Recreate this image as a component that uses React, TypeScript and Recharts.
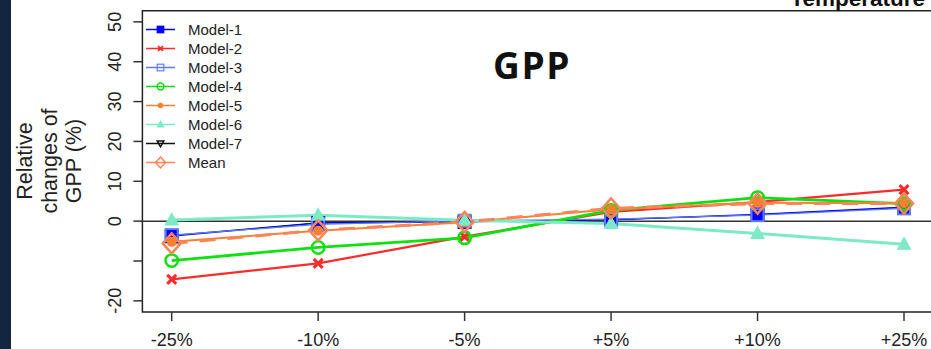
import { LineChart, Line, XAxis, YAxis, ReferenceArea, ReferenceLine } from "recharts";

// scenario change applied to the driver
const scenarios = ["-25%", "-10%", "-5%", "+5%", "+10%", "+25%"];

// relative change of GPP (%) per model
const model1 = [-3.8, -0.5, -0.2, 0.4, 1.7, 3.5];
const model2 = [-14.6, -10.6, -3.9, 2.3, 4.8, 7.9];
const model3 = [-3.5, -0.8, 0.1, 0.5, 1.5, 3.2];
const model4 = [-9.9, -6.6, -4.2, 2.7, 5.9, 4.4];
const model5 = [-5.2, -2.4, -0.3, 3.0, 4.6, 4.5];
const model6 = [0.3, 1.5, 0.2, -0.6, -3.1, -5.8];
const model7 = [-3.6, -0.4, -0.1, 0.3, 1.6, 3.4];
const meanChange = [-5.6, -2.3, -0.2, 3.2, 4.4, 4.4];

const yTicks = [-20, -10, 0, 10, 20, 30, 40, 50];

const FONT = "'Liberation Sans', Arial, sans-serif";

type Shape =
  | "square"
  | "cross"
  | "openSquare"
  | "openCircle"
  | "circle"
  | "triangle"
  | "downTriangle"
  | "diamond";

type Series = {
  key: string;
  name: string;
  color: string;
  width: number;
  shape: Shape;
  dash?: string;
  values: number[];
};

const series: Series[] = [
  { key: "m1", name: "Model-1", color: "#0000ff", width: 1.2, shape: "square", values: model1 },
  { key: "m2", name: "Model-2", color: "#ff2a2a", width: 2.2, shape: "cross", values: model2 },
  { key: "m3", name: "Model-3", color: "#5b7cff", width: 1.2, shape: "openSquare", values: model3 },
  { key: "m4", name: "Model-4", color: "#10e010", width: 2.8, shape: "openCircle", values: model4 },
  { key: "m5", name: "Model-5", color: "#ff7f30", width: 2, shape: "circle", values: model5 },
  { key: "m6", name: "Model-6", color: "#7deac6", width: 3, shape: "triangle", values: model6 },
  { key: "m7", name: "Model-7", color: "#111111", width: 1, shape: "downTriangle", values: model7 },
  { key: "mean", name: "Mean", color: "#ff8456", width: 3, shape: "diamond", dash: "16 12", values: meanChange },
];

// Model-7 sits under the others; the rest keep legend order
const drawOrder = ["m7", "m1", "m2", "m3", "m4", "m5", "m6", "mean"];

const data = scenarios.map((label, i) => {
  const row: Record<string, number | string> = { x: i + 1, label };
  for (const s of series) row[s.key] = s.values[i];
  return row;
});

function Marker({
  shape,
  cx,
  cy,
  color,
  k = 1,
}: {
  shape: Shape;
  cx: number;
  cy: number;
  color: string;
  k?: number;
}) {
  switch (shape) {
    case "square":
      return <rect x={cx - 7 * k} y={cy - 7 * k} width={14 * k} height={14 * k} fill={color} />;
    case "cross":
      return (
        <g stroke={color} strokeWidth={3 * Math.max(k, 0.6)}>
          <line x1={cx - 4.5 * k} y1={cy - 4.5 * k} x2={cx + 4.5 * k} y2={cy + 4.5 * k} />
          <line x1={cx - 4.5 * k} y1={cy + 4.5 * k} x2={cx + 4.5 * k} y2={cy - 4.5 * k} />
        </g>
      );
    case "openSquare":
      return (
        <rect
          x={cx - 6 * k}
          y={cy - 6 * k}
          width={12 * k}
          height={12 * k}
          fill="none"
          stroke={color}
          strokeWidth={2 * Math.max(k, 0.6)}
        />
      );
    case "openCircle":
      return <circle cx={cx} cy={cy} r={6.2 * k} fill="none" stroke={color} strokeWidth={2.5 * Math.max(k, 0.6)} />;
    case "circle":
      return <circle cx={cx} cy={cy} r={5 * k} fill={color} />;
    case "triangle":
      return (
        <polygon
          points={`${cx},${cy - 8 * k} ${cx - 7.5 * k},${cy + 5.5 * k} ${cx + 7.5 * k},${cy + 5.5 * k}`}
          fill={color}
        />
      );
    case "downTriangle":
      return (
        <polygon
          points={`${cx},${cy + 6 * k} ${cx - 6 * k},${cy - 4.5 * k} ${cx + 6 * k},${cy - 4.5 * k}`}
          fill="none"
          stroke={color}
          strokeWidth={1.5}
        />
      );
    case "diamond":
      return (
        <polygon
          points={`${cx},${cy - 10 * k} ${cx + 9 * k},${cy} ${cx},${cy + 10 * k} ${cx - 9 * k},${cy}`}
          fill="none"
          stroke={color}
          strokeWidth={2.5 * Math.max(k, 0.6)}
        />
      );
  }
}

function YTick({ x, y, payload }: any) {
  // -10 keeps its tick mark but no label, as in the base-graphics original
  if (payload.value === -10) return <g />;
  const bx = x - 10.5;
  return (
    <text
      x={bx}
      y={y}
      transform={`rotate(-90, ${bx}, ${y})`}
      textAnchor="middle"
      fontSize={18}
      fontFamily={FONT}
      fill="#222"
    >
      {payload.value}
    </text>
  );
}

function XTick({ x, y, payload }: any) {
  return (
    <text x={x} y={y + 23} textAnchor="middle" fontSize={18} fontFamily={FONT} fill="#222">
      {scenarios[payload.value - 1]}
    </text>
  );
}

function LegendBox() {
  return (
    <g fontFamily={FONT} fontSize={15} fill="#222">
      {series.map((s, i) => {
        const y = 29.5 + i * 19;
        return (
          <g key={s.key}>
            <line x1={146} x2={175} y1={y} y2={y} stroke={s.color} strokeWidth={1.5} />
            <Marker shape={s.shape} cx={160.5} cy={y} color={s.color} k={0.55} />
            <text x={188} y={y + 5.5}>
              {s.name}
            </text>
          </g>
        );
      })}
    </g>
  );
}

export default function App() {
  return (
    <div style={{ position: "relative", width: 931, height: 349, overflow: "hidden", background: "#fff" }}>
      <style>{`body { margin: 0; }`}</style>
      <div style={{ position: "absolute", left: 0, top: 0, width: 11, height: 349, background: "#14263f" }} />
      <div style={{ position: "absolute", left: 0, top: 0 }}>
        <LineChart width={940} height={349} data={data} margin={{ top: 10.7, right: 6.7, bottom: 0, left: 0 }}>
          <XAxis
            dataKey="x"
            type="number"
            domain={[0.8, 6.2]}
            ticks={[1, 2, 3, 4, 5, 6]}
            allowDataOverflow
            axisLine={false}
            tickSize={9}
            tickLine={{ stroke: "#333", strokeWidth: 1.5 }}
            tick={<XTick />}
            height={37}
          />
          <YAxis
            type="number"
            domain={[-22.8, 52.8]}
            ticks={yTicks}
            allowDataOverflow
            axisLine={false}
            tickSize={9}
            tickLine={{ stroke: "#333", strokeWidth: 1.5 }}
            tick={<YTick />}
            width={142.4}
          />
          <ReferenceLine y={0} stroke="#333" strokeWidth={1.5} />
          <ReferenceArea x1={0.8} x2={6.2} y1={-22.8} y2={52.8} fill="none" stroke="#222" strokeWidth={1.5} />
          {drawOrder.map((key) => {
            const s = series.find((d) => d.key === key)!;
            return (
              <Line
                key={s.key}
                dataKey={s.key}
                name={s.name}
                stroke={s.color}
                strokeWidth={s.width}
                strokeDasharray={s.dash}
                isAnimationActive={false}
                activeDot={false}
                dot={(p: any) => (
                  <Marker key={`${s.key}-${p.index}`} shape={s.shape} cx={p.cx} cy={p.cy} color={s.color} />
                )}
              />
            );
          })}
        </LineChart>
      </div>
      <svg width={931} height={349} style={{ position: "absolute", left: 0, top: 0, pointerEvents: "none" }}>
        <g fontFamily={FONT} fontSize={21.5} fill="#222">
          {["Relative", "changes of", "GPP (%)"].map((t, i) => {
            const bx = 32 + i * 24.5;
            return (
              <text key={t} x={bx} y={161} textAnchor="middle" transform={`rotate(-90, ${bx}, 161)`}>
                {t}
              </text>
            );
          })}
        </g>
        <text
          x={532}
          y={79}
          textAnchor="middle"
          fontSize={37}
          fontWeight={700}
          letterSpacing={1.5}
          fontFamily="'Open Sans', sans-serif"
          fill="#111"
        >
          GPP
        </text>
        <text x={925} y={6} textAnchor="end" fontSize={22.5} fontWeight={700} fontFamily={FONT} fill="#111">
          Temperature
        </text>
        <LegendBox />
      </svg>
    </div>
  );
}
